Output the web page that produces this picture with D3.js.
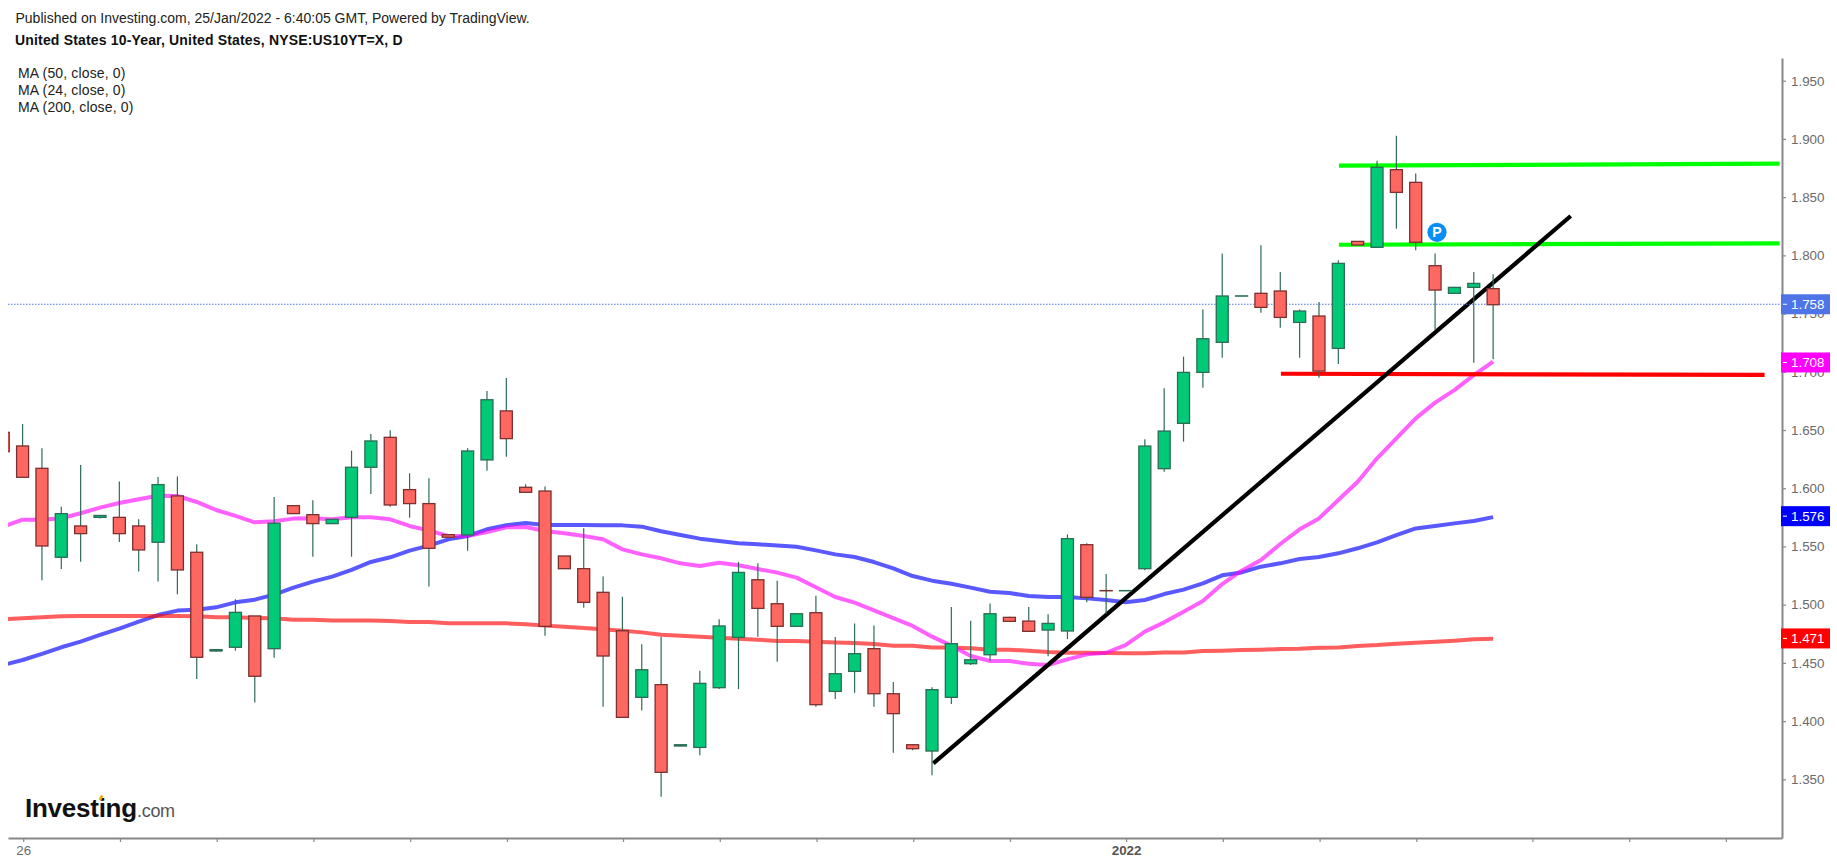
<!DOCTYPE html>
<html>
<head>
<meta charset="utf-8">
<script src="https://cdn.jsdelivr.net/npm/d3@7/dist/d3.min.js"></script>
<style>
html,body{margin:0;padding:0;background:#fff;overflow:hidden}
svg{display:block}
text{font-family:"Liberation Sans",Arial,sans-serif}
</style>
</head>
<body>
<div id="chart"></div>
<script>
// Trading-day positions 0..77
const opens = [1.6480,1.6363,1.6171,1.5407,1.5676,1.5750,1.5750,1.5676,1.5536,1.5934,1.5450,1.4602,1.4634,1.4903,1.4622,1.5850,1.5773,1.5696,1.5750,1.6180,1.6437,1.5988,1.5868,1.5601,1.5599,1.6243,1.6664,1.6008,1.5976,1.5418,1.5309,1.5106,1.4776,1.4204,1.4313,1.3786,1.3774,1.4287,1.4719,1.5214,1.5008,1.4814,1.4931,1.4255,1.4427,1.4622,1.4235,1.3797,1.3743,1.4204,1.4493,1.4570,1.4891,1.4859,1.4782,1.4774,1.5515,1.5121,1.5119,1.5309,1.6168,1.6557,1.6995,1.7253,1.7650,1.7674,1.7694,1.7424,1.7479,1.7201,1.8120,1.8069,1.8736,1.8627,1.7911,1.7674,1.7725,1.7714];
const highs = [1.6480,1.6552,1.6343,1.5842,1.6200,1.5770,1.6057,1.5733,1.6097,1.6100,1.5518,1.4618,1.5046,1.4903,1.5925,1.5856,1.5896,1.5733,1.6323,1.6466,1.6497,1.6128,1.6085,1.5601,1.6343,1.6835,1.6947,1.6034,1.6014,1.5418,1.5656,1.5241,1.5068,1.4659,1.4725,1.3797,1.4433,1.4874,1.5366,1.5355,1.5206,1.4922,1.5077,1.4722,1.4839,1.4822,1.4336,1.3803,1.4290,1.4980,1.4862,1.5011,1.4897,1.4980,1.4917,1.5604,1.5527,1.5263,1.5121,1.6420,1.6858,1.7130,1.7536,1.8017,1.7652,1.8086,1.7857,1.7536,1.7599,1.7957,1.8120,1.8813,1.9028,1.8704,1.8017,1.7730,1.7857,1.7837];
const lows = [1.6314,1.6094,1.5209,1.5307,1.5369,1.5739,1.5538,1.5284,1.5198,1.5089,1.4362,1.4598,1.4605,1.4159,1.4545,1.5782,1.5412,1.5696,1.5412,1.5951,1.5842,1.5747,1.5155,1.5579,1.5464,1.6151,1.6271,1.5965,1.4734,1.5309,1.4974,1.4124,1.4032,1.4092,1.3351,1.3786,1.3706,1.4275,1.4275,1.4725,1.4510,1.4814,1.4124,1.4190,1.4244,1.4124,1.3729,1.3749,1.3534,1.4147,1.4482,1.4519,1.4857,1.4768,1.4556,1.4705,1.5020,1.4925,1.5119,1.5295,1.6142,1.6400,1.6863,1.7121,1.7650,1.7507,1.7379,1.7121,1.6949,1.7067,1.8089,1.8069,1.8229,1.8043,1.7359,1.7674,1.7078,1.7107];
const closes = [1.6314,1.6094,1.5504,1.5782,1.5610,1.5766,1.5610,1.5470,1.6031,1.5298,1.4548,1.4614,1.4934,1.4385,1.5699,1.5782,1.5696,1.5733,1.6180,1.6406,1.5856,1.5868,1.5484,1.5579,1.6320,1.6760,1.6426,1.5965,1.4814,1.5309,1.5020,1.4559,1.4032,1.4441,1.3560,1.3797,1.4324,1.4817,1.5277,1.4968,1.4814,1.4922,1.4141,1.4407,1.4579,1.4235,1.4064,1.3763,1.4270,1.4665,1.4527,1.4922,1.4857,1.4771,1.4839,1.5567,1.5063,1.5119,1.5121,1.6362,1.6491,1.6995,1.7284,1.7651,1.7652,1.7553,1.7467,1.7522,1.7006,1.7931,1.8089,1.8756,1.8541,1.8112,1.7702,1.7725,1.7759,1.7576];

const ma50 = [1.4482,1.4525,1.4577,1.4634,1.4682,1.4740,1.4794,1.4854,1.4911,1.4949,1.4957,1.4977,1.5020,1.5043,1.5086,1.5146,1.5198,1.5241,1.5298,1.5367,1.5407,1.5464,1.5507,1.5561,1.5590,1.5647,1.5682,1.5702,1.5684,1.5684,1.5684,1.5682,1.5681,1.5670,1.5630,1.5598,1.5567,1.5547,1.5527,1.5518,1.5509,1.5498,1.5466,1.5432,1.5409,1.5366,1.5312,1.5246,1.5206,1.5180,1.5146,1.5111,1.5100,1.5074,1.5066,1.5066,1.5054,1.5040,1.5020,1.5040,1.5091,1.5129,1.5183,1.5252,1.5277,1.5326,1.5355,1.5392,1.5409,1.5441,1.5484,1.5535,1.5598,1.5655,1.5675,1.5698,1.5718,1.5752];
const ma24 = [1.5670,1.5730,1.5730,1.5742,1.5785,1.5833,1.5873,1.5905,1.5936,1.5933,1.5882,1.5813,1.5762,1.5707,1.5716,1.5739,1.5742,1.5733,1.5750,1.5750,1.5733,1.5676,1.5636,1.5590,1.5590,1.5624,1.5664,1.5667,1.5633,1.5613,1.5590,1.5561,1.5475,1.5432,1.5398,1.5355,1.5332,1.5360,1.5338,1.5306,1.5275,1.5232,1.5149,1.5066,1.5017,1.4951,1.4885,1.4817,1.4725,1.4648,1.4559,1.4516,1.4516,1.4493,1.4482,1.4530,1.4573,1.4587,1.4653,1.4768,1.4848,1.4940,1.5031,1.5177,1.5292,1.5383,1.5521,1.5647,1.5741,1.5899,1.6056,1.6257,1.6428,1.6600,1.6735,1.6843,1.6972,1.7087];
const ma200 = [1.4874,1.4883,1.4891,1.4900,1.4903,1.4903,1.4903,1.4903,1.4903,1.4903,1.4900,1.4891,1.4891,1.4886,1.4883,1.4871,1.4871,1.4863,1.4863,1.4863,1.4860,1.4851,1.4851,1.4840,1.4840,1.4840,1.4840,1.4831,1.4820,1.4811,1.4800,1.4788,1.4776,1.4762,1.4742,1.4734,1.4725,1.4716,1.4708,1.4699,1.4688,1.4688,1.4682,1.4676,1.4671,1.4662,1.4648,1.4648,1.4633,1.4633,1.4625,1.4613,1.4613,1.4605,1.4593,1.4587,1.4587,1.4585,1.4582,1.4582,1.4590,1.4590,1.4602,1.4605,1.4610,1.4613,1.4619,1.4622,1.4630,1.4633,1.4645,1.4653,1.4665,1.4673,1.4682,1.4691,1.4702,1.4708];

const yTicks = [1.35,1.40,1.45,1.50,1.55,1.60,1.65,1.70,1.75,1.80,1.85,1.90,1.95];
const xTicks = [1,6,11,16,21,26,32,37,42,47,52,58,63,68,73,79,84,89];
const xTickLabels = {1:"26",58:"2022"};

const blackTrend = [[48.07,1.3637],[81.01,1.8338]];
const greenTop = [[69.03,1.8770],[91.8,1.8787]];
const greenBottom = [[69.03,1.8091],[91.8,1.8103]];
const redSupport = [[66.03,1.6983],[91.03,1.6974]];

const lastPrice = 1.758;
const badges = [
  {value:1.758,label:"1.758",fill:"#4e74e8"},
  {value:1.708,label:"1.708",fill:"#ff00ff"},
  {value:1.576,label:"1.576",fill:"#0000ff"},
  {value:1.471,label:"1.471",fill:"#ff0000"}
];
const headerLine = "Published on Investing.com, 25/Jan/2022 - 6:40:05 GMT, Powered by TradingView.";
const titleLine = "United States 10-Year, United States, NYSE:US10YT=X, D";
const legendLines = ["MA (50, close, 0)","MA (24, close, 0)","MA (200, close, 0)"];
const pivotMark = {index:74.0,value:1.8198,label:"P"};

const W=1837,H=866;
const x=d3.scaleLinear().domain([0.2455,91.93]).range([8,1782]);
const y=d3.scaleLinear().domain([1.2996,1.9695]).range([838,58]);

const svg=d3.select("#chart").append("svg").attr("width",W).attr("height",H).attr("viewBox",`0 0 ${W} ${H}`);
svg.append("rect").attr("width",W).attr("height",H).attr("fill","#fff");
svg.append("clipPath").attr("id","plot").append("rect").attr("x",8).attr("y",58).attr("width",1774).attr("height",780);
const plot=svg.append("g").attr("clip-path","url(#plot)");

// moving averages sit under everything else
const line=d3.line().x((d,i)=>x(i)).y(d=>y(d));
[[ma50,"#0000ff",0.65],[ma200,"#ff0000",0.63],[ma24,"#ff00ff",0.62]].forEach(([s,c,o])=>{
  plot.append("path").datum(s).attr("fill","none").attr("stroke",c).attr("stroke-opacity",o)
    .attr("stroke-width",4).attr("stroke-linejoin","round").attr("d",line);
});

// drawn trend lines
const tl=d3.line().x(d=>x(d[0])).y(d=>y(d[1]));
[[greenTop,"#00ff00"],[greenBottom,"#00ff00"],[redSupport,"#ff0000"],[blackTrend,"#000"]].forEach(([p,c])=>{
  plot.append("path").datum(p).attr("fill","none").attr("stroke",c).attr("stroke-width",4.2).attr("d",tl);
});

// last price line
plot.append("line").attr("x1",8).attr("x2",1782).attr("y1",y(lastPrice)).attr("y2",y(lastPrice))
  .attr("stroke","#4e74e8").attr("stroke-width",1).attr("stroke-dasharray","1.5 1.5");

// candles
const candles=opens.map((o,i)=>({i,o,h:highs[i],l:lows[i],c:closes[i]}));
const bw=12;
const g=plot.append("g");
g.selectAll("line.wick").data(candles).join("line").attr("class","wick")
  .attr("x1",d=>x(d.i)).attr("x2",d=>x(d.i)).attr("y1",d=>y(d.h)).attr("y2",d=>y(d.l))
  .attr("stroke","#2f6b55").attr("stroke-width",1.2);
g.selectAll("rect.body").data(candles).join("rect").attr("class","body")
  .attr("x",d=>x(d.i)-bw/2).attr("width",bw)
  .attr("y",d=>y(Math.max(d.o,d.c))).attr("height",d=>Math.abs(y(d.o)-y(d.c)))
  .attr("fill",d=>d.c>=d.o?"#00c977":"#ff6860")
  .attr("stroke",d=>d.c>=d.o?"#2b6d55":"#7c2f2f").attr("stroke-width",1.3);

// pivot marker
const pg=svg.append("g").attr("transform",`translate(${x(pivotMark.index)+1.9},${y(pivotMark.value)})`);
pg.append("circle").attr("r",9.6).attr("fill","#0a8ef5");
pg.append("text").text(pivotMark.label).attr("text-anchor","middle").attr("dy","0.36em")
  .attr("fill","#fff").attr("font-size",14).attr("font-weight","bold");

// axes
const axisColor="#888", labelColor="#6b6b6b";
const ya=svg.append("g").attr("transform","translate(1782,0)")
  .call(d3.axisRight(y).tickValues(yTicks).tickFormat(d3.format(".3f")).tickSize(4).tickPadding(5).tickSizeOuter(0));
const xa=svg.append("g").attr("transform","translate(0,838)")
  .call(d3.axisBottom(x).tickValues(xTicks).tickFormat(d=>xTickLabels[d]||"").tickSize(4).tickPadding(5).tickSizeOuter(0));
[ya,xa].forEach(a=>{
  a.select(".domain").attr("stroke",axisColor).attr("stroke-width",2);
  a.selectAll(".tick line").attr("stroke",axisColor).attr("stroke-width",1.2);
  a.selectAll("text").attr("fill",labelColor).attr("font-size",13.4).attr("font-family",'"Liberation Sans",Arial,sans-serif');
});
xa.selectAll(".tick").attr("transform",d=>`translate(${x(d)+1.1},0)`);
xa.selectAll(".tick text").attr("y",7).attr("font-weight",d=>d===58?"bold":"normal").attr("fill",d=>d===58?"#555":labelColor);

// price badges
badges.forEach(b=>{
  const by=y(b.value), bg=svg.append("g");
  bg.append("rect").attr("x",1781).attr("y",by-10).attr("width",49).attr("height",20).attr("fill",b.fill);
  bg.append("line").attr("x1",1783).attr("x2",1787).attr("y1",by).attr("y2",by).attr("stroke","#fff");
  bg.append("text").text(b.label).attr("x",1791).attr("y",by).attr("dy","0.36em").attr("fill","#fff").attr("font-size",13.4);
});

// header
svg.append("text").text(headerLine).attr("x",15.5).attr("y",22.6).attr("font-size",14).attr("fill","#222");
svg.append("text").text(titleLine).attr("x",15).attr("y",45.4).attr("font-size",14).attr("font-weight","bold").attr("letter-spacing",0.17).attr("fill","#111");
legendLines.forEach((t,i)=>{
  svg.append("text").text(t).attr("x",18).attr("y",78.4+17*i).attr("font-size",14).attr("letter-spacing",0.15).attr("fill","#222");
});

// logo
const logo=svg.append("g").attr("transform","translate(25,816.7)");
logo.append("text").text("Investing").attr("font-size",26).attr("font-weight","bold").attr("letter-spacing",-0.25).attr("fill","#111");
logo.append("text").text(".com").attr("x",112).attr("font-size",18).attr("letter-spacing",-0.3).attr("fill","#555");
logo.append("ellipse").attr("cx",76).attr("cy",-19).attr("rx",1.5).attr("ry",2.8).attr("transform","rotate(30 76 -19)").attr("fill","#f7a600");
</script>
</body>
</html>
